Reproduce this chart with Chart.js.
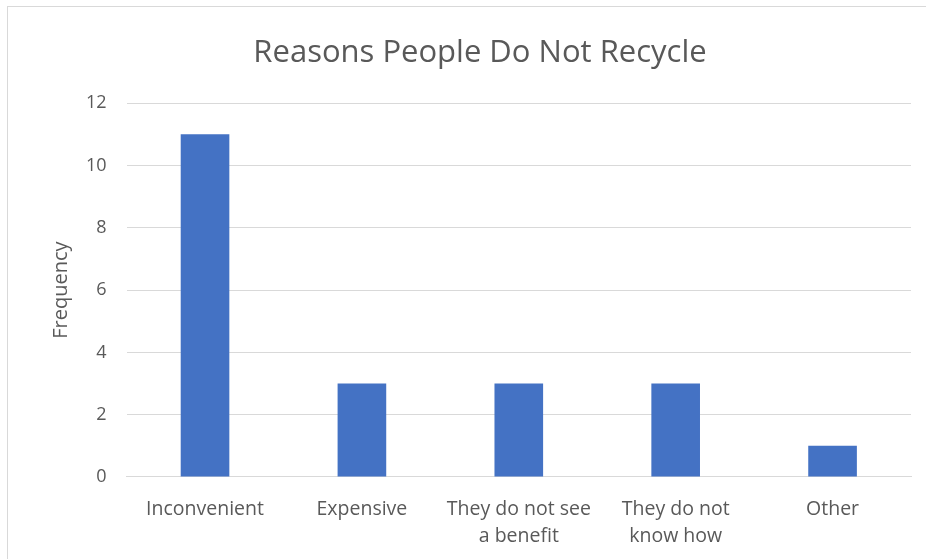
<!DOCTYPE html>
<html>
<head>
<meta charset="utf-8">
<script src="https://cdn.jsdelivr.net/npm/chart.js@4/dist/chart.umd.min.js"></script>
<style>
  html, body { margin: 0; padding: 0; background: #fff; overflow: hidden; }
  #wrap {
    position: absolute; left: 7px; top: 6px;
    width: 932px; height: 562px;
    border-left: 1px solid #d9d9d9; border-top: 1px solid #d9d9d9;
  }
</style>
</head>
<body>
<div id="wrap"><canvas id="myChart"></canvas></div>
<script>
const reasons = [
  "Inconvenient",
  "Expensive",
  ["They do not see", "a benefit"],
  ["They do not", "know how"],
  "Other"
];
const frequency = [11, 3, 3, 3, 1];
const yTicks = [0, 2, 4, 6, 8, 10, 12];

const textGray = "#595959";
const gridGray = "#d9d9d9";

Chart.defaults.font.family = "'Open Sans', 'Noto Sans', sans-serif";
Chart.defaults.color = textGray;

new Chart("myChart", {
  type: "bar",
  data: {
    labels: reasons,
    datasets: [{
      label: "Frequency",
      data: frequency,
      backgroundColor: "#4472C4",
      categoryPercentage: 1,
      barPercentage: 0.31
    }]
  },
  options: {
    responsive: true,
    maintainAspectRatio: false,
    animation: false,
    layout: { padding: { left: 41, right: 29, top: 28, bottom: 0 } },
    plugins: {
      legend: { display: false },
      tooltip: { enabled: false },
      title: {
        display: true,
        text: "Reasons People Do Not Recycle",
        color: textGray,
        font: { size: 31, weight: "normal" },
        padding: { top: 0, bottom: 31 }
      }
    },
    scales: {
      x: {
        grid: { display: false, drawTicks: false },
        border: { display: true, color: gridGray, width: 1 },
        ticks: { color: textGray, font: { size: 19.5, lineHeight: 1.385 }, padding: 19, maxRotation: 0, autoSkip: false }
      },
      y: {
        min: 0,
        max: 12,
        afterBuildTicks: (axis) => { axis.ticks = yTicks.map(v => ({ value: v })); },
        grid: { color: gridGray, drawTicks: false },
        border: { display: false },
        ticks: { color: textGray, font: { size: 18 }, padding: 20 },
        title: {
          display: true,
          text: "Frequency",
          color: textGray,
          font: { size: 20 },
          padding: { top: 0, bottom: -7 }
        }
      }
    }
  }
});
</script>
</body>
</html>
